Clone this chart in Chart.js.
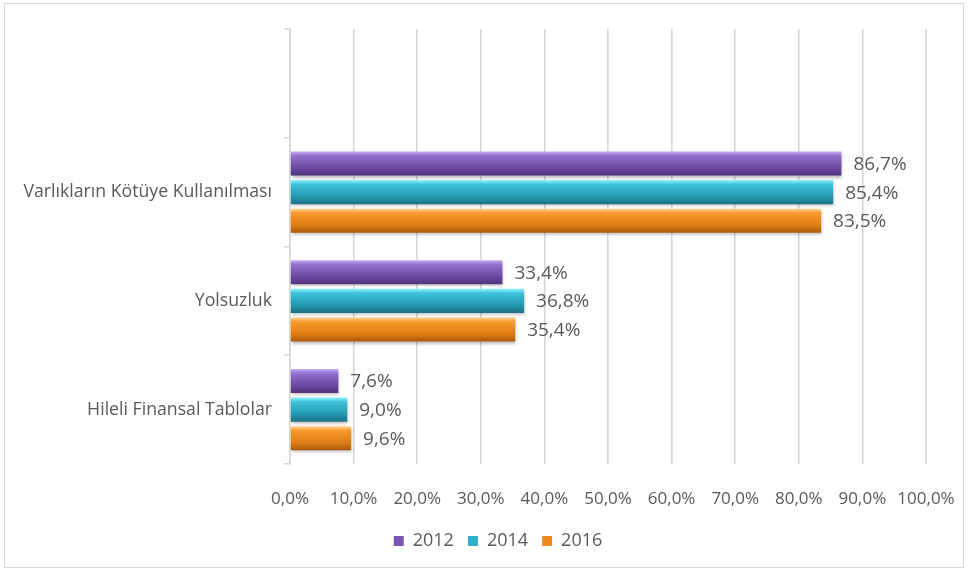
<!DOCTYPE html>
<html>
<head>
<meta charset="utf-8">
<script src="https://cdn.jsdelivr.net/npm/chart.js@4.4.1/dist/chart.umd.min.js"></script>
<style>
  html,body{margin:0;padding:0;background:#fff;}
  #frame{position:absolute;left:4px;top:3px;width:960px;height:565px;border:1px solid #d9d9d9;box-sizing:border-box;}
  #wrap{position:absolute;left:0;top:0;width:968px;height:572px;}
</style>
</head>
<body>
<div id="frame"></div>
<div id="wrap"><canvas id="c" width="968" height="572"></canvas></div>
<script>
const categories = ['', 'Varlıkların Kötüye Kullanılması', 'Yolsuzluk', 'Hileli Finansal Tablolar'];
const seriesNames = ['2012', '2014', '2016'];
const values2012 = [null, 86.7, 33.4, 7.6];
const values2014 = [null, 85.4, 36.8, 9.0];
const values2016 = [null, 83.5, 35.4, 9.6];
const xTicks = [0, 10, 20, 30, 40, 50, 60, 70, 80, 90, 100];

const palettes = [
  ['#c7aef0', '#9270cc', '#6a48a0', '#50337e'],
  ['#8ef2ff', '#3cc3dc', '#2396ad', '#1a7284'],
  ['#ffd394', '#f99b2e', '#dc7b14', '#a9590c']
];
const solid = ['#7a55b5', '#2fb0c9', '#f08a1c'];
const textColor = '#595959';
const FONT = "'Open Sans', 'Noto Sans', sans-serif";

function gradFor(p, fallback) {
  return function (ctx) {
    if (ctx.type !== 'data') return fallback;
    const chart = ctx.chart;
    const el = chart.getDatasetMeta(ctx.datasetIndex).data[ctx.dataIndex];
    if (!el || el.y == null || isNaN(el.y) || !el.height) return fallback;
    const top = el.y - el.height / 2;
    const g = chart.ctx.createLinearGradient(0, top, 0, top + el.height);
    g.addColorStop(0, p[0]);
    g.addColorStop(0.18, p[1]);
    g.addColorStop(0.7, p[2]);
    g.addColorStop(1, p[3]);
    return g;
  };
}

const valueLabels = {
  id: 'valueLabels',
  afterDatasetsDraw(chart) {
    const ctx = chart.ctx;
    ctx.save();
    ctx.font = '19px ' + FONT;
    ctx.fillStyle = textColor;
    ctx.textAlign = 'left';
    ctx.textBaseline = 'middle';
    chart.data.datasets.forEach((ds, di) => {
      const meta = chart.getDatasetMeta(di);
      meta.data.forEach((el, i) => {
        const v = ds.data[i];
        if (v == null) return;
        ctx.fillText(v.toFixed(1).replace('.', ',') + '%', el.x + 12, el.y + 1);
      });
    });
    ctx.restore();
  }
};

const barShadow = {
  id: 'barShadow',
  beforeDatasetDraw(chart) {
    const ctx = chart.ctx;
    ctx.save();
    ctx.shadowColor = 'rgba(0,0,0,0.28)';
    ctx.shadowBlur = 3;
    ctx.shadowOffsetX = 1;
    ctx.shadowOffsetY = 2;
  },
  afterDatasetDraw(chart) {
    chart.ctx.restore();
  }
};

const seriesValues = [values2012, values2014, values2016];
const datasets = seriesNames.map((name, i) => ({
  label: name,
  data: seriesValues[i],
  backgroundColor: gradFor(palettes[i], solid[i]),
  borderColor: palettes[i][3],
  borderWidth: 0,
  categoryPercentage: 0.79,
  barPercentage: 0.84
}));

const chart = new Chart(document.getElementById('c'), {
  type: 'bar',
  data: { labels: categories, datasets },
  plugins: [barShadow, valueLabels],
  options: {
    indexAxis: 'y',
    responsive: false,
    animation: false,
    layout: { padding: { left: 70, right: 42, top: 29, bottom: 12 } },
    scales: {
      x: {
        min: 0, max: 100,
        afterBuildTicks(scale) { scale.ticks = xTicks.map(v => ({ value: v })); },
        afterFit(scale) { scale.height = 54; },
        grid: { color: '#d7d7d7', lineWidth: 1.6, drawTicks: true, tickLength: 21, tickColor: 'rgba(0,0,0,0)' },
        border: { display: false },
        ticks: {
          padding: 4,
          color: textColor,
          font: { family: FONT, size: 17 },
          callback: v => v.toFixed(1).replace('.', ',') + '%'
        }
      },
      y: {
        afterFit(scale) { scale.width = 220; scale._computeLabelArea = () => null; },
        grid: { display: true, drawOnChartArea: false, drawTicks: true, tickLength: 6, offset: true, color: '#d7d7d7', lineWidth: 1.6 },
        border: { display: true, color: '#d7d7d7', width: 1.6 },
        ticks: { padding: 12, color: textColor, font: { family: FONT, size: 17.7 } }
      }
    },
    plugins: {
      tooltip: { enabled: false },
      legend: {
        position: 'bottom',
        labels: {
          color: textColor,
          font: { family: FONT, size: 18 },
          boxWidth: 10, boxHeight: 10,
          padding: 14,
          generateLabels(ch) {
            const items = Chart.defaults.plugins.legend.labels.generateLabels(ch);
            items.forEach((it, i) => { it.fillStyle = solid[i]; it.strokeStyle = palettes[i][3]; it.lineWidth = 0; });
            return items;
          }
        }
      }
    }
  }
});
chart.update();
</script>
</body>
</html>
